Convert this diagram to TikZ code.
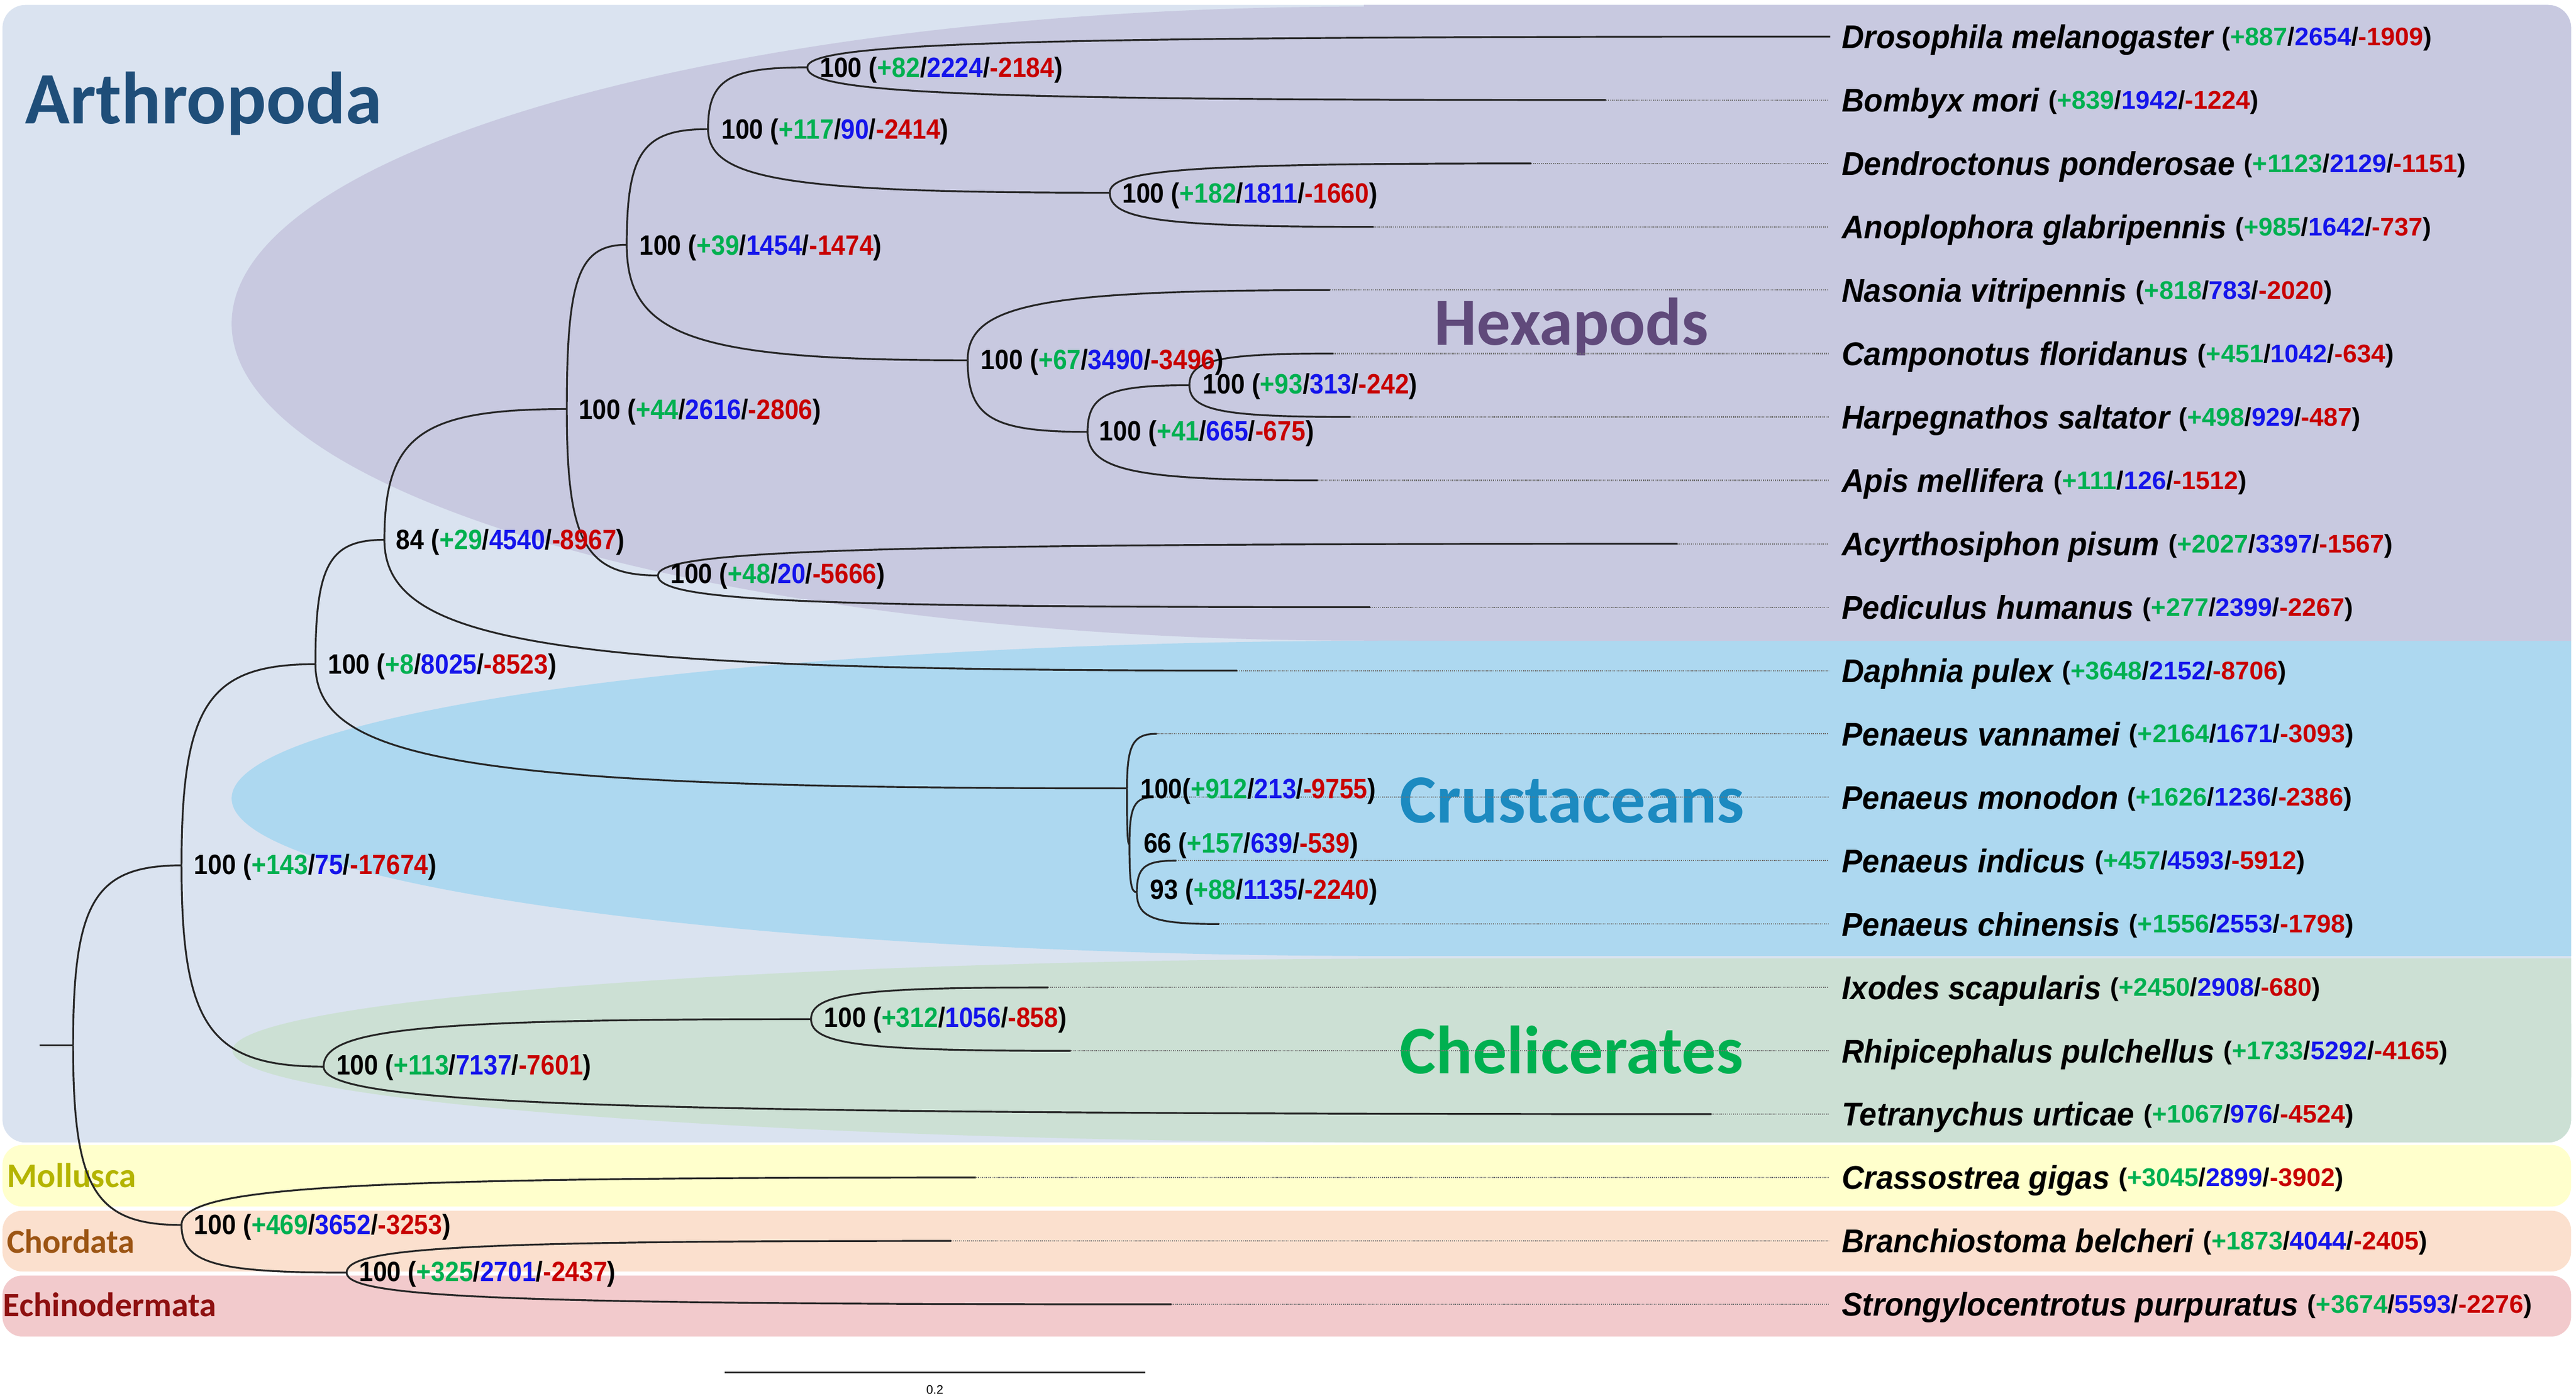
\documentclass[tikz,border=0pt]{standalone}
\usepackage{fontspec}
\setmainfont{Liberation Sans}
\newfontfamily\calfont{Carlito}
\newfontfamily\spfont{Liberation Sans}[FakeStretch=0.94]
\newfontfamily\nfont{Liberation Sans}[FakeStretch=0.9]
\usetikzlibrary{calc}
\definecolor{arthbg}{HTML}{DAE3F0}
\definecolor{hexbg}{HTML}{C8C9E0}
\definecolor{crustbg}{HTML}{ADD8F0}
\definecolor{chelbg}{HTML}{CCE0D4}
\definecolor{mollbg}{HTML}{FFFFCC}
\definecolor{chorbg}{HTML}{FBE0CE}
\definecolor{echbg}{HTML}{F2CACC}
\definecolor{arthtxt}{HTML}{1F4E79}
\definecolor{hextxt}{HTML}{604A7B}
\definecolor{crusttxt}{HTML}{1C8AC0}
\definecolor{cheltxt}{HTML}{00B050}
\definecolor{molltxt}{HTML}{B4B400}
\definecolor{chortxt}{HTML}{9C5514}
\definecolor{echtxt}{HTML}{8E1010}
\definecolor{ngreen}{HTML}{00B050}
\definecolor{nblue}{HTML}{1414EB}
\definecolor{nred}{HTML}{C80000}
\newcommand{\gbr}[3]{(\textcolor{ngreen}{#1}/\textcolor{nblue}{#2}/\textcolor{nred}{#3})}
\newcommand{\spl}[4]{{\spfont\bfseries\itshape\fontsize{20}{24}\selectfont #1}\ {\normalfont\bfseries\fontsize{15.5}{18}\selectfont\raisebox{1.8pt}{\gbr{#2}{#3}{#4}}}}
\newcommand{\br}[2]{\draw[branch] (#1) .. controls ($(#1)!0.8!(#1|-#2)$) and ($(#2)!0.8!(#1|-#2)$) .. (#2);}
\tikzset{
  branch/.style={line width=1.1pt, black!85},
  leader/.style={line width=0.7pt, black!55, dash pattern=on 0.6pt off 0.6pt},
  nlab/.style={anchor=base west, inner sep=0pt, yshift=-0.5pt, font=\nfont\fontsize{17}{20}\selectfont\bfseries},
  slab/.style={anchor=base west, inner sep=0pt, font=\fontsize{20}{24}\selectfont},
  clade/.style={anchor=base west, inner sep=0pt}
}
\begin{document}
\begin{tikzpicture}[x=1pt,y=-1pt]
\useasboundingbox (0,0) rectangle (1568,849.8);
% ---------- backgrounds
\begin{scope}
\clip[rounded corners=14pt] (1.5,3) rectangle (1565,695.5);
\fill[arthbg] (0,0) rectangle (1568,700);
\fill[hexbg] (830,197) ellipse [x radius=689pt, y radius=193pt];
\fill[hexbg] (830,0) rectangle (1568,390);
\fill[crustbg] (848,486) ellipse [x radius=707pt, y radius=96pt];
\fill[crustbg] (848,390) rectangle (1568,582);
\fill[chelbg] (869,639.5) ellipse [x radius=727.5pt, y radius=56pt];
\fill[chelbg] (869,583.5) rectangle (1568,700);
\end{scope}
\fill[mollbg, rounded corners=12pt] (1.5,697) rectangle (1565,734.5);
\fill[chorbg, rounded corners=12pt] (1.5,737) rectangle (1565,774);
\fill[echbg, rounded corners=12pt] (1.5,776.5) rectangle (1565,813.6);
% ---------- clade labels
\node[clade, font=\calfont\bfseries\fontsize{45}{50}\selectfont, text=arthtxt] (lArth) at (15,75.4) {Arthropoda};
\node[clade, font=\calfont\bfseries\fontsize{41}{46}\selectfont, text=hextxt] (lHex) at (873,210) {Hexapods};
\node[clade, font=\calfont\bfseries\fontsize{42}{46}\selectfont, text=crusttxt] (lCru) at (852,501) {Crustaceans};
\node[clade, font=\calfont\bfseries\fontsize{41.5}{46}\selectfont, text=cheltxt] (lChe) at (852,653.5) {Chelicerates};
\node[clade, font=\calfont\bfseries\fontsize{21}{24}\selectfont, text=molltxt] (lMol) at (4,722.8) {Mollusca};
\node[clade, font=\calfont\bfseries\fontsize{20.5}{24}\selectfont, text=chortxt] (lCho) at (4,762.7) {Chordata};
\node[clade, font=\calfont\bfseries\fontsize{20.7}{24}\selectfont, text=echtxt] (lEch) at (1.7,801.4) {Echinodermata};
% ---------- tips
\foreach \i/\tx/\ty in {1/1114/22.3, 2/977.5/60.9, 3/932/99.5, 4/836/138.1, 5/809.5/176.6,
  6/811.5/215.2, 7/822/253.8, 8/802/292.4, 9/1021/331.0, 10/834/369.6, 11/753/408.2,
  12/704/446.7, 13/702/485.3, 14/716/523.9, 15/742/562.5, 16/638/601.1, 17/651.7/639.7,
  18/1041.7/678.2, 19/594/716.8, 20/579/755.4, 21/713/794.0}
{ \coordinate (t\i) at (\tx,\ty); \coordinate (e\i) at (1113,\ty); }
% ---------- internal nodes
\coordinate (r0) at (24,636.3);
\coordinate (root) at (44.5,636.3);
\coordinate (nA) at (110.5,526.8);
\coordinate (nD) at (110.5,745.7);
\coordinate (nPan) at (192,404.3);
\coordinate (nChel) at (197,649.3);
\coordinate (n84) at (234,328.6);
\coordinate (n44) at (345,249);
\coordinate (n39) at (381.5,149);
\coordinate (n117) at (431,78.6);
\coordinate (n82) at (491.4,41);
\coordinate (n182) at (675.5,117.3);
\coordinate (n67) at (589,219.3);
\coordinate (n41) at (662,262.9);
\coordinate (n93) at (724,234.5);
\coordinate (n48) at (400.5,350.3);
\coordinate (n912) at (686,479.9);
\coordinate (n66) at (687.5,514);
\coordinate (n93b) at (692,543.2);
\coordinate (n312) at (493.7,620.4);
\coordinate (n325) at (211,774.7);
% ---------- leaders
\foreach \i in {2,...,21} { \draw[leader] (t\i) -- (e\i); }
% ---------- branches
\draw[branch] (r0) -- (root);
\br{root}{nA} \br{root}{nD}
\br{nA}{nPan} \br{nA}{nChel}
\br{nPan}{n84} \br{nPan}{n912}
\br{n84}{n44} \br{n84}{t11}
\br{n44}{n39} \br{n44}{n48}
\br{n39}{n117} \br{n39}{n67}
\br{n117}{n82} \br{n117}{n182}
\br{n82}{t1} \br{n82}{t2}
\br{n182}{t3} \br{n182}{t4}
\br{n67}{t5} \br{n67}{n41}
\br{n41}{n93} \br{n41}{t8}
\br{n93}{t6} \br{n93}{t7}
\br{n48}{t9} \br{n48}{t10}
\br{n912}{t12} \br{n912}{n66}
\br{n66}{t13} \br{n66}{n93b}
\br{n93b}{t14} \br{n93b}{t15}
\br{nChel}{n312} \br{nChel}{t18}
\br{n312}{t16} \br{n312}{t17}
\br{nD}{t19} \br{nD}{n325}
\br{n325}{t20} \br{n325}{t21}
% ---------- node labels
\node[nlab] (l82) at (499,46.6) {100 \gbr{+82}{2224}{-2184}};
\node[nlab] (l117) at (439,84.2) {100 \gbr{+117}{90}{-2414}};
\node[nlab] (l182) at (683,122.9) {100 \gbr{+182}{1811}{-1660}};
\node[nlab] (l39) at (389,154.6) {100 \gbr{+39}{1454}{-1474}};
\node[nlab] (l67) at (597,224.2) {100 \gbr{+67}{3490}{-3496}};
\node[nlab] (l93) at (732,239) {100 \gbr{+93}{313}{-242}};
\node[nlab] (l44) at (352,254.6) {100 \gbr{+44}{2616}{-2806}};
\node[nlab] (l41) at (669,267.8) {100 \gbr{+41}{665}{-675}};
\node[nlab] (l84) at (241,334) {84 \gbr{+29}{4540}{-8967}};
\node[nlab] (l48) at (408,354.6) {100 \gbr{+48}{20}{-5666}};
\node[nlab] (l8) at (199.5,409.6) {100 \gbr{+8}{8025}{-8523}};
\node[nlab] (l912) at (694,485.6) {100\gbr{+912}{213}{-9755}};
\node[nlab] (l66) at (696,518.6) {66 \gbr{+157}{639}{-539}};
\node[nlab] (l93b) at (700,547) {93 \gbr{+88}{1135}{-2240}};
\node[nlab] (l143) at (118,531.8) {100 \gbr{+143}{75}{-17674}};
\node[nlab] (l312) at (501.5,624.8) {100 \gbr{+312}{1056}{-858}};
\node[nlab] (l113) at (204.5,653.8) {100 \gbr{+113}{7137}{-7601}};
\node[nlab] (l469) at (118,750.8) {100 \gbr{+469}{3652}{-3253}};
\node[nlab] (l325) at (218.5,779.5) {100 \gbr{+325}{2701}{-2437}};
% ---------- species labels
\node[slab] (s1) at (1121,29.5) {\spl{Drosophila melanogaster}{+887}{2654}{-1909}};
\node[slab] (s2) at (1121,68.1) {\spl{Bombyx mori}{+839}{1942}{-1224}};
\node[slab] (s3) at (1121,106.7) {\spl{Dendroctonus ponderosae}{+1123}{2129}{-1151}};
\node[slab] (s4) at (1121,145.3) {\spl{Anoplophora glabripennis}{+985}{1642}{-737}};
\node[slab] (s5) at (1121,183.8) {\spl{Nasonia vitripennis}{+818}{783}{-2020}};
\node[slab] (s6) at (1121,222.4) {\spl{Camponotus floridanus}{+451}{1042}{-634}};
\node[slab] (s7) at (1121,261.0) {\spl{Harpegnathos saltator}{+498}{929}{-487}};
\node[slab] (s8) at (1121,299.6) {\spl{Apis mellifera}{+111}{126}{-1512}};
\node[slab] (s9) at (1121,338.2) {\spl{Acyrthosiphon pisum}{+2027}{3397}{-1567}};
\node[slab] (s10) at (1121,376.8) {\spl{Pediculus humanus}{+277}{2399}{-2267}};
\node[slab] (s11) at (1121,415.4) {\spl{Daphnia pulex}{+3648}{2152}{-8706}};
\node[slab] (s12) at (1121,453.9) {\spl{Penaeus vannamei}{+2164}{1671}{-3093}};
\node[slab] (s13) at (1121,492.5) {\spl{Penaeus monodon}{+1626}{1236}{-2386}};
\node[slab] (s14) at (1121,531.1) {\spl{Penaeus indicus}{+457}{4593}{-5912}};
\node[slab] (s15) at (1121,569.7) {\spl{Penaeus chinensis}{+1556}{2553}{-1798}};
\node[slab] (s16) at (1121,608.3) {\spl{Ixodes scapularis}{+2450}{2908}{-680}};
\node[slab] (s17) at (1121,646.9) {\spl{Rhipicephalus pulchellus}{+1733}{5292}{-4165}};
\node[slab] (s18) at (1121,685.4) {\spl{Tetranychus urticae}{+1067}{976}{-4524}};
\node[slab] (s19) at (1121,724.0) {\spl{Crassostrea gigas}{+3045}{2899}{-3902}};
\node[slab] (s20) at (1121,762.6) {\spl{Branchiostoma belcheri}{+1873}{4044}{-2405}};
\node[slab] (s21) at (1121,801.2) {\spl{Strongylocentrotus purpuratus}{+3674}{5593}{-2276}};
% ---------- scale bar
\coordinate (sb1) at (441,835.5);
\coordinate (sb2) at (697,835.5);
\draw[line width=0.9pt, black!85] (sb1) -- (sb2);
\node[inner sep=0pt, font=\fontsize{7.5}{9}\selectfont, anchor=base] (sbl) at (569,848.5) {0.2};
\end{tikzpicture}
\end{document}
